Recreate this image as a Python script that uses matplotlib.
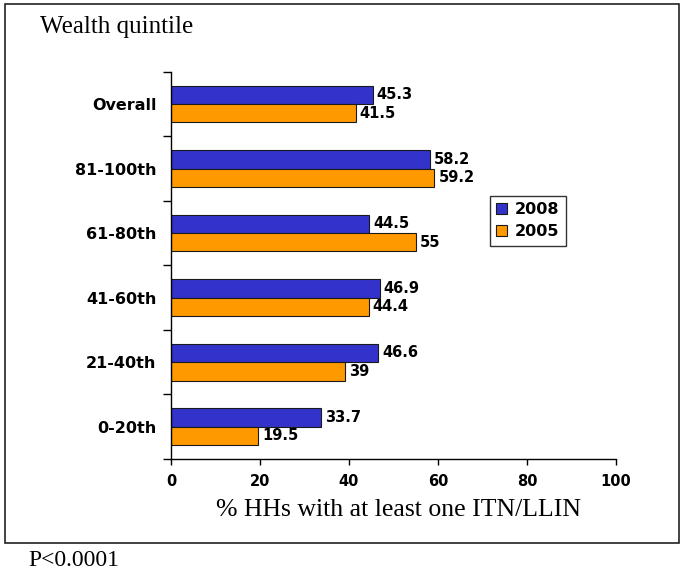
import matplotlib.pyplot as plt
import matplotlib.patches as patches
import numpy as np

# Data
categories = ['0-20th', '21-40th', '41-60th', '61-80th', '81-100th', 'Overall']
values_2008 = [33.7, 46.6, 46.9, 44.5, 58.2, 45.3]
values_2005 = [19.5, 39, 44.4, 55, 59.2, 41.5]
labels_2008 = ['33.7', '46.6', '46.9', '44.5', '58.2', '45.3']
labels_2005 = ['19.5', '39', '44.4', '55', '59.2', '41.5']

blue = '#3333CC'
orange = '#FF9900'
bold_font = 'DejaVu Sans'
serif_font = 'Liberation Serif'

fig = plt.figure(figsize=(6.85, 5.74), dpi=100)
ax = fig.add_axes([0.2496, 0.2003, 0.6496, 0.6748])

y = np.arange(len(categories))
h = 0.285
bars08 = ax.barh(y + h/2, values_2008, height=h, color=blue, edgecolor='#1a1a1a', linewidth=0.8, label='2008')
bars05 = ax.barh(y - h/2, values_2005, height=h, color=orange, edgecolor='#1a1a1a', linewidth=0.8, label='2005')

# value labels at bar ends
for bar, lab in zip(bars08, labels_2008):
    ax.annotate(lab, (bar.get_width(), bar.get_y() + bar.get_height()/2), xytext=(3, 0),
                textcoords='offset points', va='center', ha='left', fontsize=10.5,
                fontweight='bold', family=bold_font)
for bar, lab in zip(bars05, labels_2005):
    ax.annotate(lab, (bar.get_width(), bar.get_y() + bar.get_height()/2), xytext=(3, 0),
                textcoords='offset points', va='center', ha='left', fontsize=10.5,
                fontweight='bold', family=bold_font)

ax.set_xlim(0, 100)
ax.set_ylim(-0.5, len(categories) - 0.5)
ax.set_xticks([0, 20, 40, 60, 80, 100])
ax.set_xticklabels(['0', '20', '40', '60', '80', '100'], fontsize=10.5, fontweight='bold', family=bold_font)

# ticks between categories, labels at centres
ax.set_yticks(np.arange(-0.5, len(categories), 1.0))
ax.set_yticklabels([])
ax.set_yticks(y, minor=True)
ax.set_yticklabels(categories, minor=True, fontsize=11.5, fontweight='bold', family=bold_font)
ax.tick_params(axis='y', which='minor', length=0, pad=10.5)
ax.tick_params(axis='y', which='major', length=6, width=1)
ax.tick_params(axis='x', length=4, width=1, pad=7)

for side in ['top', 'right']:
    ax.spines[side].set_visible(False)
for side in ['left', 'bottom']:
    ax.spines[side].set_linewidth(1)

ax.set_xlabel('% HHs with at least one ITN/LLIN', family=serif_font, fontsize=18.5)
ax.xaxis.set_label_coords(0.511, -0.104)

leg = ax.legend(loc='upper left', bbox_to_anchor=(0.717, 0.68), fancybox=False, edgecolor='black',
                prop={'family': bold_font, 'weight': 'bold', 'size': 11.5},
                handlelength=0.65, handleheight=0.65, handletextpad=0.5, borderpad=0.4,
                labelspacing=0.45, borderaxespad=0)
leg.get_frame().set_linewidth(1)

fig.text(40/685, 1 - 33/574, 'Wealth quintile', family=serif_font, fontsize=18, va='baseline', ha='left')
fig.text(28/685, 1 - 566/574, 'P<0.0001', family=serif_font, fontsize=17, va='baseline', ha='left')

# border box
fig.patches.append(patches.Rectangle((5/685, 1 - 542.5/574), 674/685, 538.5/574, transform=fig.transFigure,
                                     fill=False, edgecolor='#222222', linewidth=1.2))

plt.savefig('out.png', dpi=100)
